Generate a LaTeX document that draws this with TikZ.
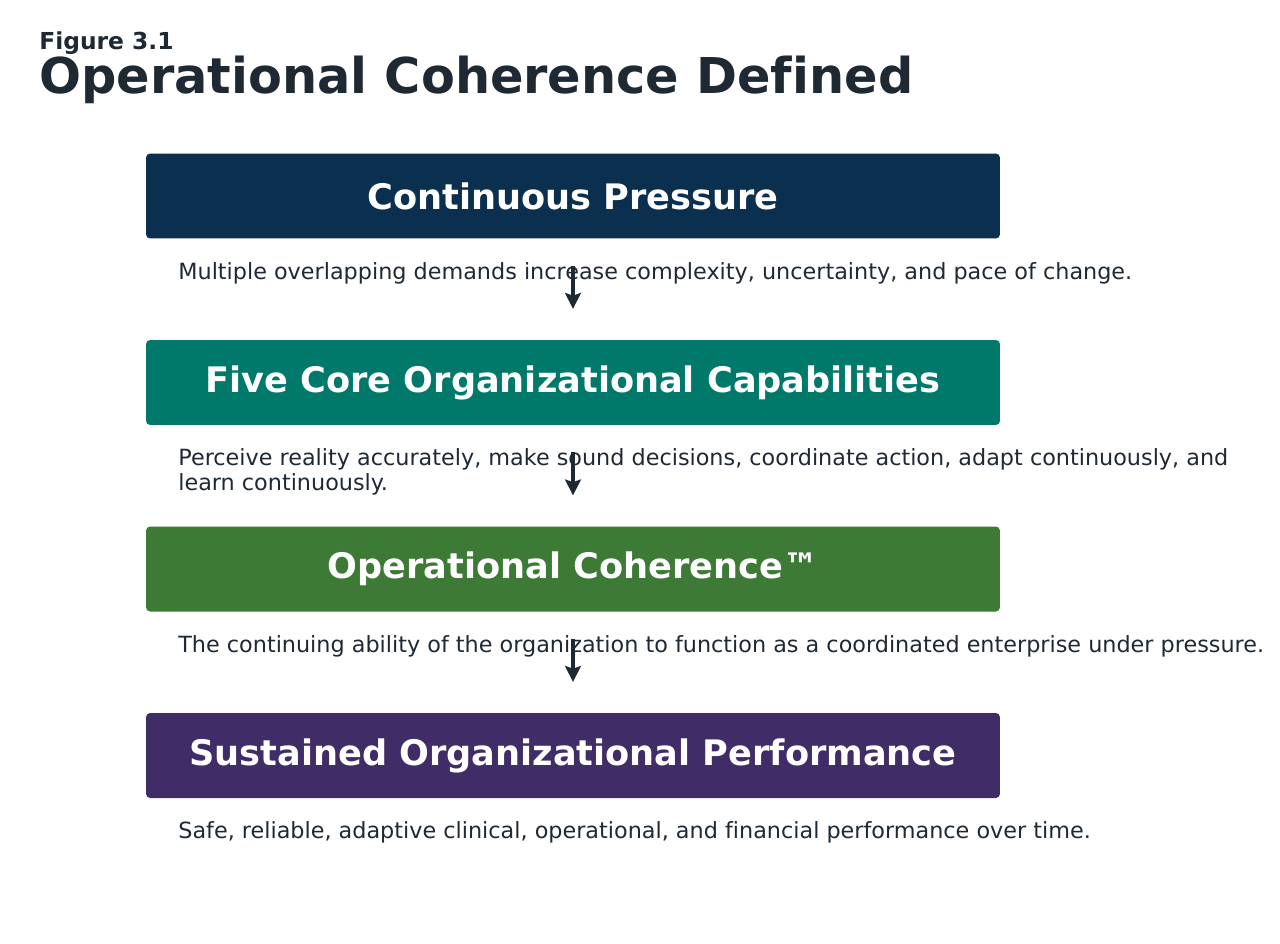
\documentclass[tikz,border=0pt]{standalone}
\usepackage{fontspec}
\setmainfont[Ligatures=NoCommon]{DejaVu Sans}
\usetikzlibrary{positioning,calc,arrows.meta}
\usepackage{xcolor}
\definecolor{pressureblue}{RGB}{11,47,79}
\definecolor{capabilityteal}{RGB}{0,121,107}
\definecolor{coherencegreen}{RGB}{60,122,53}
\definecolor{performancepurple}{RGB}{64,44,102}
\definecolor{inkdark}{RGB}{31,41,52}

\begin{document}
\begin{tikzpicture}[x=0.02cm, y=-0.02cm,
    stagebox/.style={rectangle, rounded corners=2.3pt, minimum width=17.08cm, minimum height=1.7cm,
        inner sep=0pt, text=white, font=\bfseries\fontsize{20}{24}\selectfont},
    stagenote/.style={anchor=base west, inner sep=0pt, align=left, text=inkdark,
        font=\fontsize{12.7}{14}\selectfont},
    flow/.style={-{Stealth[length=9pt, width=9pt, inset=1.5pt]}, line width=2.3pt, draw=inkdark}]
    \useasboundingbox (0,0) rectangle (1280,943);

    % Heading
    \node[anchor=base west, inner sep=0pt, text=inkdark, font=\bfseries\fontsize{13.3}{15}\selectfont]
        (figno) at (39,49) {Figure 3.1};
    \node[anchor=base west, inner sep=0pt, text=inkdark, font=\bfseries\fontsize{28.1}{32}\selectfont]
        (title) at (39,93) {Operational Coherence Defined};

    % Stages
    \node[stagebox, fill=pressureblue] (pressure) at (573,196) {Continuous Pressure};
    \node[stagenote] (pressurenote) at (178,279)
        {Multiple overlapping demands increase complexity, uncertainty, and pace of change.};

    \node[stagebox, fill=capabilityteal] (capability) at (573,382.5) {Five Core Organizational Capabilities};
    \node[stagenote] (capabilitynote) at (178,490)
        {Perceive reality accurately, make sound decisions, coordinate action, adapt continuously, and\\learn continuously.};

    \node[stagebox, fill=coherencegreen] (coherence) at (573,569) {Operational Coherence\texttrademark};
    \node[stagenote] (coherencenote) at (178,652)
        {The continuing ability of the organization to function as a coordinated enterprise under pressure.};

    \node[stagebox, fill=performancepurple] (performance) at (573,755.5) {Sustained Organizational Performance};
    \node[stagenote] (performancenote) at (178,838)
        {Safe, reliable, adaptive clinical, operational, and financial performance over time.};

    % Arrows
    \foreach \from in {pressure, capability, coherence} {
        \coordinate (\from-out) at ($(\from.south)+(0,27)$);
        \coordinate (\from-in) at ($(\from.south)+(0,70)$);
        \draw[flow] (\from-out) -- (\from-in);
    }
\end{tikzpicture}
\end{document}
